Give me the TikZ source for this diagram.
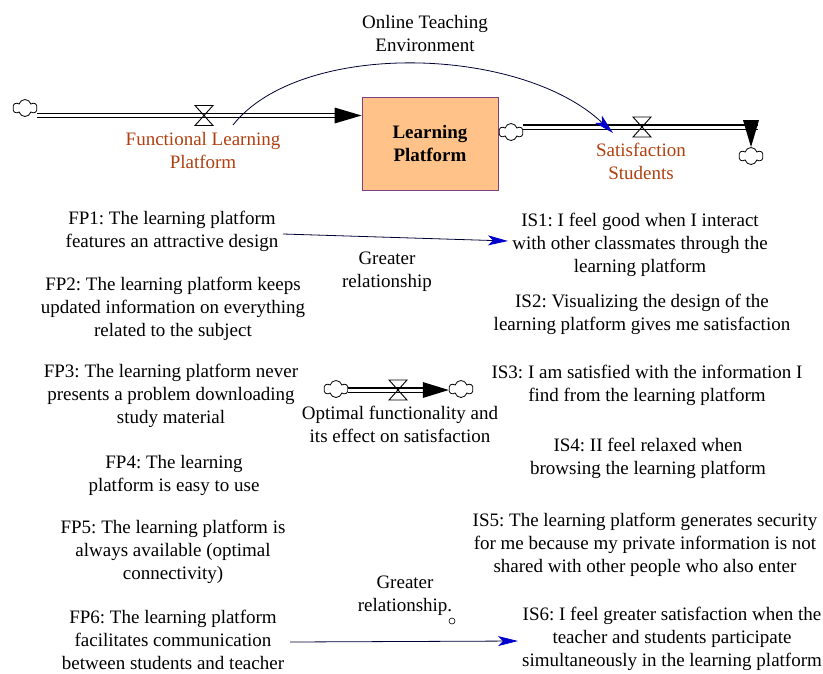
\documentclass[tikz,border=0pt]{standalone}
\usepackage{fontspec}
\setmainfont{Liberation Serif}
\usetikzlibrary{arrows.meta,shapes.symbols}
\definecolor{flowlabel}{RGB}{176,64,16}
\definecolor{stockfill}{RGB}{255,194,136}
\definecolor{stockedge}{RGB}{128,64,128}
\definecolor{linkblue}{RGB}{0,0,204}
\frenchspacing

\begin{document}
\begin{tikzpicture}[x=1pt,y=-1pt,
  txt/.style={align=center,font=\fontsize{19}{23}\selectfont,inner sep=0pt},
  flowlbl/.style={txt,text=flowlabel},
  stockbox/.style={draw=stockedge,line width=0.9pt,fill=stockfill,minimum width=136pt,
    minimum height=93pt,align=center,font=\fontsize{19}{23}\selectfont\bfseries},
  cloudnode/.style={cloud,cloud puffs=6,draw,line width=0.8pt,minimum width=24pt,
    minimum height=17pt,inner sep=0pt,fill=white},
  pipe/.style={draw,line width=1.2pt,double distance=3pt},
  flowvalve/.pic={\draw[line width=0.9pt] (-9,-10) -- (9,-10) -- (-9,10) -- (9,10) -- cycle;},
  link/.style={line width=0.8pt,draw=black!80!blue,
    -{Stealth[length=20pt,width=10pt,inset=5pt,color=linkblue]}},
]
\useasboundingbox (0,0) rectangle (823,673);

% ---------- stock and clouds ----------
\node[stockbox] (lp) at (430,143.5) {Learning\\Platform};
\node[cloudnode] (cL) at (25,108) {};
\node[cloudnode] (cR) at (511,132) {};
\node[cloudnode] (cB) at (751,156) {};
\node[cloudnode] (cM1) at (336,389) {};
\node[cloudnode] (cM2) at (461,389) {};

\coordinate (v1) at (204,115.5);
\coordinate (v2) at (642,127);
\coordinate (v3) at (398,390);

% ---------- inflow: Functional Learning Platform ----------
\draw[pipe] (cL.east |- v1) -- ([xshift=-20pt]lp.west |- v1);
\fill (lp.west |- v1) -- ++(-27,-8) -- ++(0,16) -- cycle;
\pic at (v1) {flowvalve};

% ---------- outflow: Satisfaction Students ----------
\draw[pipe] (cR.east |- v2) -- ([xshift=7pt]cB.north |- v2);
\fill (cB.north) -- ++(-8,-27) -- ++(16,0) -- cycle;
\pic at (v2) {flowvalve};

% ---------- middle flow ----------
\draw[pipe] (cM1.east |- v3) -- ([xshift=-20pt]cM2.west |- v3);
\fill (cM2.west |- v3) -- ++(-26,-8) -- ++(0,16) -- cycle;
\pic at (v3) {flowvalve};

% ---------- labels ----------
\node[flowlbl] (flp) at (203,150) {Functional Learning\\Platform};
\node[flowlbl] (ss) at (641,161) {Satisfaction\\Students};
\node[txt] (ote) at (425,33) {Online Teaching\\Environment};
\node[txt] (ofs) at (400,424) {Optimal functionality and\\its effect on satisfaction};

% ---------- functional items ----------
\node[txt] (fp1) at (172,231.5) {FP1: The learning platform\\features an attractive design};
\node[txt] (fp2) at (173,309) {FP2: The learning platform keeps\\updated information on everything\\related to the subject};
\node[txt] (fp3) at (171,396) {FP3: The learning platform never\\presents a problem downloading\\study material};
\node[txt] (fp4) at (174,475) {FP4: The learning\\platform is easy to use};
\node[txt] (fp5) at (173,552) {FP5: The learning platform is\\always available (optimal\\connectivity)};
\node[txt] (fp6) at (173,640) {FP6: The learning platform\\facilitates communication\\between students and teacher};

% ---------- satisfaction items ----------
\node[txt] (is1) at (640,245) {IS1: I feel good when I interact\\with other classmates through the\\learning platform};
\node[txt] (is2) at (642,314) {IS2: Visualizing the design of the\\learning platform gives me satisfaction};
\node[txt] (is3) at (647,385) {IS3: I am satisfied with the information I\\find from the learning platform};
\node[txt] (is4) at (648,458.5) {IS4: II feel relaxed when\\browsing the learning platform};
\node[txt] (is5) at (645,545) {IS5: The learning platform generates security\\for me because my private information is not\\shared with other people who also enter};
\node[txt] (is6) at (672,639) {IS6: I feel greater satisfaction when the\\teacher and students participate\\simultaneously in the learning platform};

% ---------- relationship labels ----------
\node[txt] (gr1) at (387,272) {Greater\\relationship};
\node[txt] (gr2) at (405,596) {Greater\\relationship.};
\node[circle,draw,inner sep=0pt,minimum size=6pt,line width=0.6pt] (gr2m) at (452,621) {};

% ---------- connectors ----------
\coordinate (otes) at (233,125);
\coordinate (otee) at (613,133);
\draw[link] (otes) .. controls (300,40) and (520,45) .. (otee);

\coordinate (r1s) at (283,234);
\coordinate (r1e) at (508,241);
\draw[link] (r1s) -- (r1e);

\coordinate (r2s) at (290,642);
\coordinate (r2e) at (518,641);
\draw[link] (r2s) -- (r2e);
\end{tikzpicture}
\end{document}
